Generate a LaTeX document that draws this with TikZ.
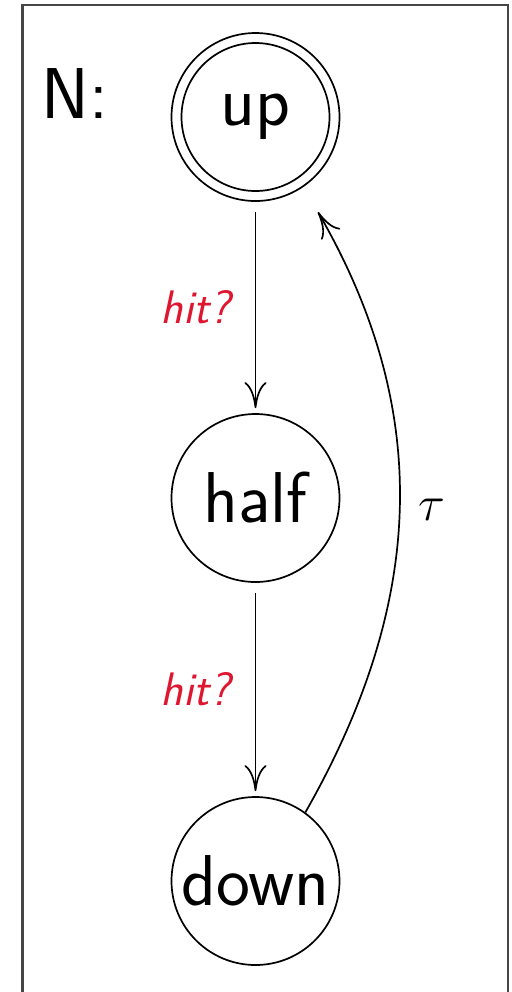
\documentclass[tikz,border=0pt]{standalone}
\usepackage{fontspec}
\usetikzlibrary{arrows.meta}
\definecolor{hitred}{RGB}{222,22,48}
\definecolor{framegray}{RGB}{70,70,70}
\begin{document}
\begin{tikzpicture}[x=0.5pt,y=-0.5pt,
  state/.style={circle, draw, line width=0.85pt, minimum size=84pt, inner sep=0pt,
    font=\fontsize{36}{40}\selectfont\sffamily},
  arr/.style={line width=0.85pt, -{To[length=13pt,width=11pt]}},
  lbl/.style={left, inner sep=12pt, text=hitred, font=\fontsize{23.5}{26}\selectfont\sffamily\itshape},
  frame/.style={line width=1.2pt, draw=framegray}]
\useasboundingbox (0,0) rectangle (512,992);
\draw[frame] (22.5,1010) -- (22.5,5) -- (508,5) -- (508,1010);
\node[state] (up) at (255.5,117) {up};
\draw[line width=0.85pt] (up.center) circle[radius=37pt];
\node[state] (half) at (255.5,498) {half};
\node[state] (down) at (255.5,881) {down};
\node[anchor=base west, inner sep=0pt, font=\fontsize{36}{40}\selectfont\sffamily] (N) at (41,118) {N:};
\coordinate (tauend) at (318,212);
\draw[arr, shorten <=5pt, shorten >=2.5pt] (up) -- node[lbl] {hit?} (half);
\draw[arr, shorten <=5pt, shorten >=2.5pt] (half) -- node[lbl] {hit?} (down);
\draw[arr] (down.54) .. controls (424,604) and (434,413) .. (tauend)
  node[pos=0.5, right, inner sep=9pt, font=\fontsize{24}{28}\selectfont] (tau) {$\tau$};
\end{tikzpicture}
\end{document}
